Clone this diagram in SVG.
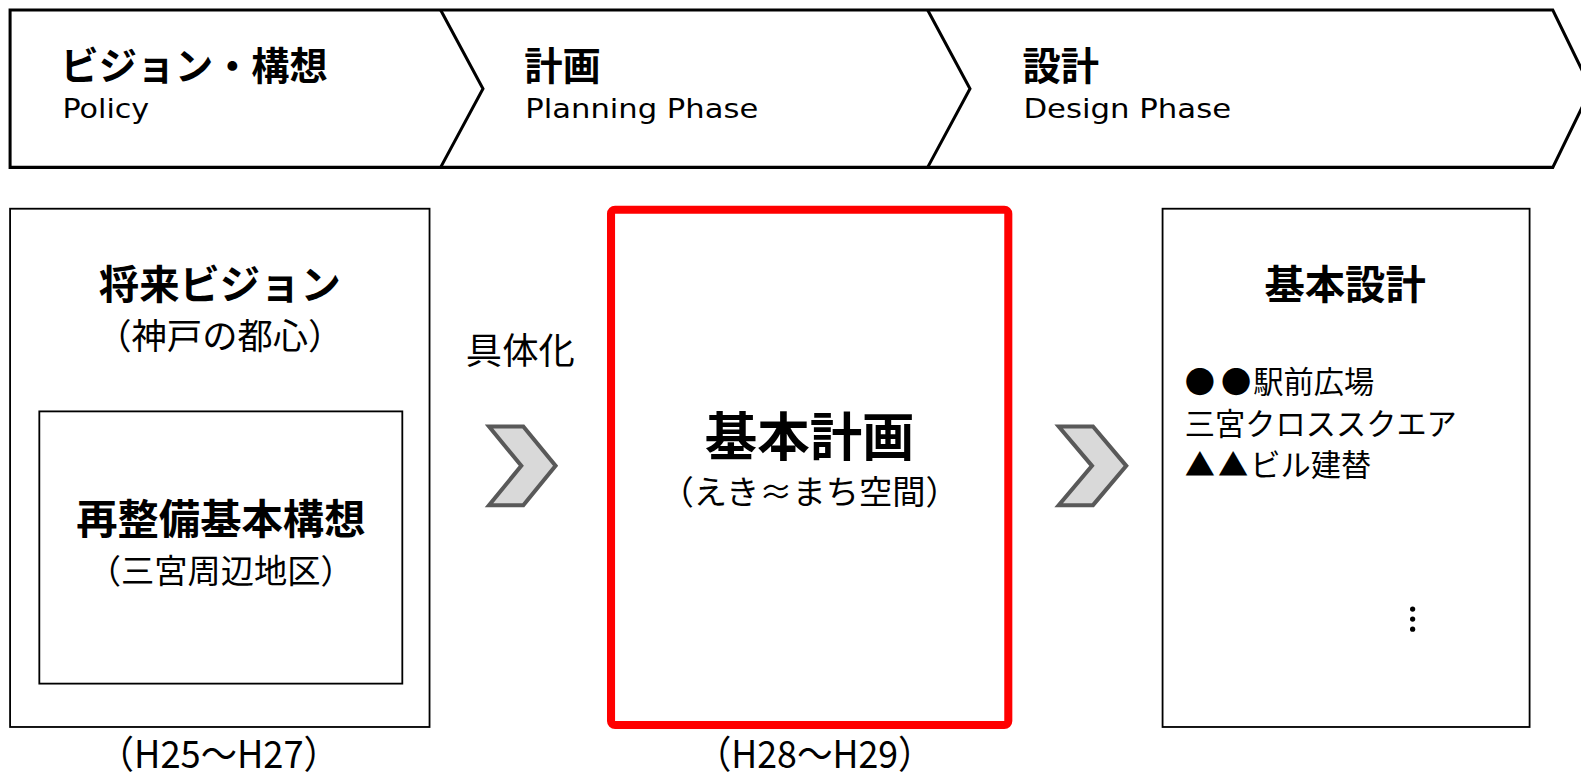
<svg xmlns="http://www.w3.org/2000/svg" width="1581" height="780" viewBox="0 0 1581 780">
<style>
.jp{font-family:"Noto Sans CJK JP","Liberation Sans",sans-serif;fill:#000}
.b{font-weight:bold}
.lat{font-family:"DejaVu Sans","Liberation Sans",sans-serif;fill:#000}
.box{fill:#fff;stroke:#000;stroke-width:1.8}
.chev{fill:#d9d9d9;stroke:#595959;stroke-width:4;stroke-linejoin:miter}
</style>
<rect width="1581" height="780" fill="#fff"/>
<g transform="scale(1.0083)">
<g id="phase-banner">
<polygon points="10,10 1540,10 1578,88 1540,166 10,166" fill="#fff" stroke="#000" stroke-width="3"/>
<polyline points="437,10 479,88 437,166" fill="none" stroke="#000" stroke-width="3"/>
<polyline points="920,10 962,88 920,166" fill="none" stroke="#000" stroke-width="3"/>
</g>
<g id="phase-policy">
<text class="jp b" x="60" y="79" font-size="38" textLength="265" lengthAdjust="spacingAndGlyphs">ビジョン・構想</text>
<text class="lat" x="62" y="117" font-size="27" textLength="86" lengthAdjust="spacingAndGlyphs">Policy</text>
</g>
<g id="phase-planning">
<text class="jp b" x="520" y="79" font-size="38">計画</text>
<text class="lat" x="521" y="117" font-size="27" textLength="231" lengthAdjust="spacingAndGlyphs">Planning Phase</text>
</g>
<g id="phase-design">
<text class="jp b" x="1014" y="79" font-size="38">設計</text>
<text class="lat" x="1015" y="117" font-size="27" textLength="206" lengthAdjust="spacingAndGlyphs">Design Phase</text>
</g>
<g id="vision-box">
<rect class="box" x="10" y="207" width="416" height="514"/>
<text class="jp b" x="218" y="297" font-size="40" text-anchor="middle">将来ビジョン</text>
<text class="jp" x="218" y="346" font-size="35" text-anchor="middle">（神戸の都心）</text>
</g>
<g id="redevelopment-box">
<rect class="box" x="39" y="408" width="360" height="270"/>
<text class="jp b" x="219" y="530" font-size="41" text-anchor="middle">再整備基本構想</text>
<text class="jp" x="219" y="578" font-size="33" text-anchor="middle">（三宮周辺地区）</text>
</g>
<g id="label-h25">
<text class="jp" x="217" y="762" font-size="38" text-anchor="middle" textLength="240" lengthAdjust="spacingAndGlyphs">（H25～H27）</text>
</g>
<g id="connectors">
<text class="jp" x="516" y="361" font-size="36" text-anchor="middle">具体化</text>
<polygon class="chev" points="485,423 519,423 551,462 519,501 485,501 517,462"/>
<polygon class="chev" points="1050,423 1084,423 1117,462 1084,501 1050,501 1083,462"/>
</g>
<g id="basic-plan-box">
<rect x="606" y="208" width="394" height="511" rx="4" fill="#fff" stroke="#ff0000" stroke-width="8"/>
<text class="jp b" x="803" y="452" font-size="52" text-anchor="middle">基本計画</text>
<text class="jp" x="803" y="500" font-size="33" text-anchor="middle">（えき≈まち空間）</text>
</g>
<g id="label-h28">
<text class="jp" x="808" y="762" font-size="38" text-anchor="middle" textLength="236" lengthAdjust="spacingAndGlyphs">（H28～H29）</text>
</g>
<g id="basic-design-box">
<rect class="box" x="1153" y="207" width="364" height="514"/>
<text class="jp b" x="1334" y="297" font-size="40" text-anchor="middle">基本設計</text>
<text class="jp" x="1175" y="390" font-size="30">●<tspan dx="6">●</tspan><tspan dx="2">駅前広場</tspan></text>
<text class="jp" x="1175" y="431" font-size="30">三宮クロススクエア</text>
<text class="jp" x="1175" y="472" font-size="30">▲<tspan dx="3">▲</tspan><tspan dx="2">ビル建替</tspan></text>
<circle cx="1401" cy="604" r="2.6" fill="#000"/>
<circle cx="1401" cy="614" r="2.6" fill="#000"/>
<circle cx="1401" cy="624" r="2.6" fill="#000"/>
</g>
</g>
</svg>
